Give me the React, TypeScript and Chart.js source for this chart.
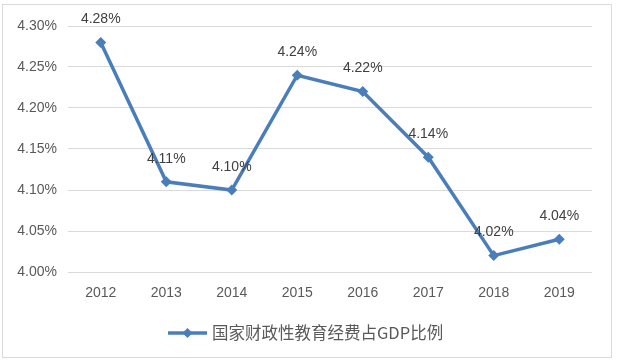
import React, { useEffect, useRef } from "react";
import { Chart, registerables } from "chart.js";

Chart.register(...registerables);

const years = ["2012", "2013", "2014", "2015", "2016", "2017", "2018", "2019"];
const ratio = [4.28, 4.11, 4.1, 4.24, 4.22, 4.14, 4.02, 4.04];
const seriesName = "国家财政性教育经费占GDP比例";
const yMin = 4.0;
const yMax = 4.3;
const yStep = 0.05;

const LINE_COLOR = "#4a7ebb";
const FONT = "'Liberation Sans', 'Noto Sans', sans-serif";

const framePlugin = {
  id: "frame",
  beforeDraw(chart: any) {
    const ctx = chart.ctx;
    ctx.save();
    ctx.fillStyle = "#ffffff";
    ctx.fillRect(0, 0, chart.width, chart.height);
    ctx.strokeStyle = "#d9d9d9";
    ctx.lineWidth = 1;
    ctx.strokeRect(2.5, 4.5, 609, 353);
    ctx.restore();
  },
};

const labelsPlugin = {
  id: "pointLabels",
  afterDatasetsDraw(chart: any) {
    const ctx = chart.ctx;
    const meta = chart.getDatasetMeta(0);
    const data = chart.data.datasets[0].data as number[];
    ctx.save();
    ctx.font = `14px ${FONT}`;
    ctx.fillStyle = "#404040";
    ctx.textAlign = "center";
    ctx.textBaseline = "middle";
    meta.data.forEach((pt: any, i: number) => {
      ctx.fillText(data[i].toFixed(2) + "%", pt.x, pt.y - 23);
    });
    ctx.restore();
  },
};

const legendPlugin = {
  id: "customLegend",
  afterDraw(chart: any) {
    const ctx = chart.ctx;
    const y = 333;
    const x0 = 168;
    ctx.save();
    ctx.strokeStyle = LINE_COLOR;
    ctx.lineWidth = 3.5;
    ctx.beginPath();
    ctx.moveTo(x0, y);
    ctx.lineTo(x0 + 39, y);
    ctx.stroke();
    const cx = x0 + 19.5;
    const r = 5;
    ctx.fillStyle = LINE_COLOR;
    ctx.beginPath();
    ctx.moveTo(cx, y - r);
    ctx.lineTo(cx + r, y);
    ctx.lineTo(cx, y + r);
    ctx.lineTo(cx - r, y);
    ctx.closePath();
    ctx.fill();
    ctx.font = "16.5px 'Noto Sans CJK SC', sans-serif";
    ctx.fillStyle = "#595959";
    ctx.textAlign = "left";
    ctx.textBaseline = "middle";
    ctx.fillText(chart.data.datasets[0].label, x0 + 44, y);
    ctx.restore();
  },
};

export default function App() {
  const ref = useRef<HTMLCanvasElement>(null);
  useEffect(() => {
    if (!ref.current) return;
    const chart = new Chart(ref.current, {
      type: "line",
      data: {
        labels: years,
        datasets: [
          {
            label: seriesName,
            data: ratio,
            borderColor: LINE_COLOR,
            backgroundColor: LINE_COLOR,
            borderWidth: 3.5,
            pointStyle: "rectRot",
            pointRadius: 5.5,
            pointBorderWidth: 0,
            tension: 0,
          },
        ],
      },
      options: {
        animation: false,
        responsive: false,
        devicePixelRatio: 1,
        layout: { padding: { left: 0, right: 28, top: 26, bottom: 60 } },
        plugins: {
          legend: { display: false },
          tooltip: { enabled: false },
        },
        scales: {
          x: {
            offset: true,
            grid: { display: false, drawTicks: false },
            border: { display: false },
            ticks: {
              padding: 13,
              color: "#595959",
              font: { family: FONT, size: 14 },
              maxRotation: 0,
            },
            afterFit(scale: any) {
              scale.height = 30;
            },
          },
          y: {
            min: yMin,
            max: yMax,
            grid: { color: "#d9d9d9", lineWidth: 1, drawTicks: false },
            border: { display: false },
            ticks: {
              stepSize: yStep,
              padding: 11,
              color: "#595959",
              font: { family: FONT, size: 14 },
              callback: (v: any) => Number(v).toFixed(2) + "%",
            },
            afterFit(scale: any) {
              scale.width = 68;
            },
          },
        },
      },
      plugins: [framePlugin, labelsPlugin, legendPlugin],
    });
    return () => chart.destroy();
  }, []);
  return (
    <div style={{ position: "fixed", left: 0, top: 0, width: 620, height: 362 }}>
      <canvas ref={ref} width={620} height={362} style={{ width: 620, height: 362 }} />
    </div>
  );
}
